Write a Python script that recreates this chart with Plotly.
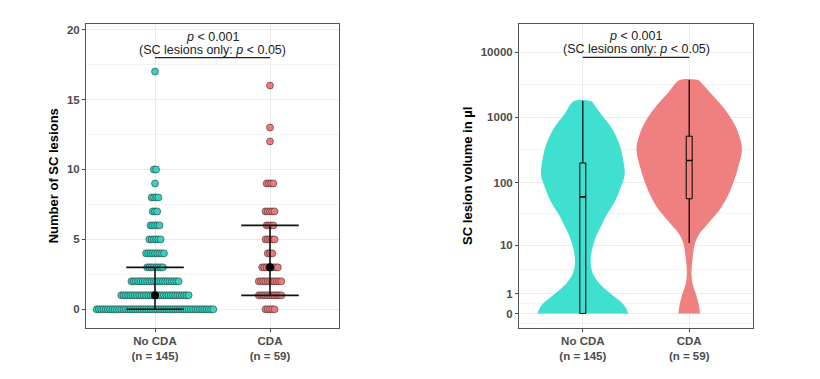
import numpy as np
import plotly.graph_objects as go

# ---------------- data ----------------
group_labels = ["No CDA<br>(n = 145)", "CDA<br>(n = 59)"]

# Left panel: number of SC lesions (value level -> number of patients)
levels_nocda = [0, 1, 2, 3, 4, 5, 6, 7, 8, 9, 10, 17]
counts_nocda = [53, 31, 22, 8, 9, 6, 5, 3, 4, 1, 2, 1]
levels_cda = [0, 1, 2, 3, 4, 5, 6, 7, 9, 12, 13, 16]
counts_cda = [5, 11, 11, 8, 3, 5, 4, 5, 4, 1, 1, 1]

# Right panel: SC lesion volume (µl) – violin outline (volume level, relative half width)
violin_vol_nocda = [0, 0.37, 0.95, 1.77, 2.94, 4.6, 6.9, 10.3, 15.1, 21.9, 31.4, 50, 83, 131, 208, 379,
                    691, 1090, 1786]
violin_hw_nocda = [0.430, 0.383, 0.271, 0.164, 0.098, 0.075, 0.078, 0.098, 0.131, 0.178, 0.224, 0.299,
                   0.355, 0.393, 0.383, 0.346, 0.271, 0.178, 0.082]
violin_vol_cda = [0, 0.37, 0.95, 1.77, 2.94, 4.6, 6.9, 10.3, 15.1, 21.9, 40, 73, 117, 187, 300, 427,
                  766, 1379, 2477, 3740]
violin_hw_cda = [0.101, 0.090, 0.065, 0.034, 0.022, 0.026, 0.036, 0.051, 0.090, 0.168, 0.299, 0.383,
                 0.430, 0.467, 0.495, 0.486, 0.430, 0.327, 0.190, 0.089]

# box statistics (µl): whisker low, Q1, median, Q3, whisker high
box_nocda = [0, 0, 60, 200, 1780]
box_cda = [11, 56, 218, 516, 3740]

vol_ticks = [0, 1, 10, 100, 1000, 10000]

# ---------------- styles ----------------
TEAL = "#40E0D0"
RED = "#F08080"
TEAL_DOT = "#34D3C0"
RED_DOT = "#EC7A7C"
FONT = "Liberation Sans, Arial, sans-serif"
DOT_STEP = 0.0195


def tr(v):
    return np.log10(np.asarray(v, dtype=float) + 1)


fig = go.Figure()

# ---------------- left panel: dot plot ----------------
for pos, levels, counts, col in [(1, levels_nocda, counts_nocda, TEAL_DOT),
                                 (2, levels_cda, counts_cda, RED_DOT)]:
    xs, ys, vals = [], [], []
    for lv, n in zip(levels, counts):
        for i in range(n):
            xs.append(pos + (i - (n - 1) / 2) * DOT_STEP)
            ys.append(lv)
        vals += [lv] * n
    fig.add_trace(go.Scatter(x=xs, y=ys, mode="markers", xaxis="x", yaxis="y",
                             marker=dict(size=7, color=col,
                                         line=dict(color="rgba(40,40,40,0.75)", width=0.7)),
                             hoverinfo="skip", showlegend=False))
    q1, med, q3 = np.percentile(vals, [25, 50, 75])
    for q in (q1, q3):
        fig.add_trace(go.Scatter(x=[pos - 0.25, pos + 0.25], y=[q, q], mode="lines",
                                 xaxis="x", yaxis="y", line=dict(color="#111", width=1.6),
                                 hoverinfo="skip", showlegend=False))
    fig.add_trace(go.Scatter(x=[pos, pos], y=[q1, q3], mode="lines", xaxis="x", yaxis="y",
                             line=dict(color="#111", width=1.6), hoverinfo="skip", showlegend=False))
    fig.add_trace(go.Scatter(x=[pos], y=[med], mode="markers", xaxis="x", yaxis="y",
                             marker=dict(size=8, color="#000"), hoverinfo="skip", showlegend=False))

# ---------------- right panel: violins ----------------
for pos, vv, hw, col, bx in [(1, violin_vol_nocda, violin_hw_nocda, TEAL, box_nocda),
                             (2, violin_vol_cda, violin_hw_cda, RED, box_cda)]:
    t = tr(vv)
    hw = np.asarray(hw)
    xs = list(pos + hw) + [pos + hw[-1]] + list(pos - hw[::-1])
    ys = list(t) + [t[-1]] + list(t[::-1])
    fig.add_trace(go.Scatter(x=xs, y=ys, mode="lines", fill="toself", fillcolor=col,
                             line=dict(width=0, shape="spline", smoothing=1.0, color=col),
                             xaxis="x2", yaxis="y2", hoverinfo="skip", showlegend=False))
    wlo, q1, med, q3, whi = tr(bx)
    bw = 0.028
    fig.add_trace(go.Scatter(x=[pos, pos], y=[q3, whi], mode="lines", xaxis="x2", yaxis="y2",
                             line=dict(color="#000", width=1.2), hoverinfo="skip", showlegend=False))
    fig.add_trace(go.Scatter(x=[pos, pos], y=[wlo, q1], mode="lines", xaxis="x2", yaxis="y2",
                             line=dict(color="#000", width=1.2), hoverinfo="skip", showlegend=False))
    fig.add_trace(go.Scatter(x=[pos - bw, pos + bw, pos + bw, pos - bw, pos - bw],
                             y=[q1, q1, q3, q3, q1], mode="lines", fill="toself", fillcolor=col,
                             xaxis="x2", yaxis="y2", line=dict(color="#000", width=1),
                             hoverinfo="skip", showlegend=False))
    fig.add_trace(go.Scatter(x=[pos - bw, pos + bw], y=[med, med], mode="lines",
                             xaxis="x2", yaxis="y2", line=dict(color="#000", width=1.6),
                             hoverinfo="skip", showlegend=False))

# ---------------- axes ----------------
tickfont = dict(family=FONT, size=11.5, color="#4D4D4D", weight="bold")
titlefont = dict(family=FONT, size=13, color="#000", weight="bold")
common = dict(showline=True, mirror=True, linecolor="#555", linewidth=1, ticks="outside",
              ticklen=3, tickcolor="#444", tickwidth=1, gridcolor="#EBEBEB", gridwidth=1,
              zeroline=False, tickfont=tickfont, showgrid=True)

vt = tr(vol_ticks)
minor_r = [vt[0] - 0.15] + [(a + b) / 2 for a, b in zip(vt[:-1], vt[1:])]

fig.update_layout(
    width=820, height=379, margin=dict(l=0, r=0, t=0, b=0),
    paper_bgcolor="white", plot_bgcolor="white", showlegend=False,
    xaxis=dict(domain=[86 / 820, 339 / 820], range=[0.4, 2.6], tickvals=[1, 2],
               ticktext=group_labels, anchor="y", **common),
    yaxis=dict(domain=[1 - 327.5 / 379, 1 - 24 / 379], range=[-1.3, 20.4], tickvals=[0, 5, 10, 15, 20],
               anchor="x", title=dict(text="Number of SC lesions", font=titlefont, standoff=5),
               minor=dict(tickvals=[2.5, 7.5, 12.5, 17.5], showgrid=True, gridcolor="#F3F3F3",
                          gridwidth=0.8), **common),
    xaxis2=dict(domain=[519 / 820, 753 / 820], range=[0.4, 2.6], tickvals=[1, 2],
                ticktext=group_labels, anchor="y2", **common),
    yaxis2=dict(domain=[1 - 327.5 / 379, 1 - 24 / 379], range=[-0.214, 4.43], tickvals=list(vt),
                ticktext=[str(v) for v in vol_ticks], anchor="x2",
                title=dict(text="SC lesion volume in µl", font=titlefont, standoff=5),
                minor=dict(tickvals=minor_r, showgrid=True, gridcolor="#F3F3F3", gridwidth=0.8),
                **common),
)

# ---------------- significance annotations ----------------
afont = dict(family=FONT, size=12.5, color="#222")
for xr, yr, y1, y2, yl in [("x", "y", 19.5, 18.57, 18.0), ("x2", "y2", 4.244, 4.046, 3.92)]:
    fig.add_annotation(x=1.5, y=y1, xref=xr, yref=yr, text="<i>p</i> &lt; 0.001",
                       showarrow=False, font=afont, yanchor="middle")
    fig.add_annotation(x=1.5, y=y2, xref=xr, yref=yr,
                       text="(SC lesions only: <i>p</i> &lt; 0.05)",
                       showarrow=False, font=afont, yanchor="middle")
    fig.add_shape(type="line", x0=1, x1=2, y0=yl, y1=yl, xref=xr, yref=yr,
                  line=dict(color="#222", width=1.3))

fig.write_html("out.html", config={"displayModeBar": False},
               post_script="document.body.style.margin='0px';")
